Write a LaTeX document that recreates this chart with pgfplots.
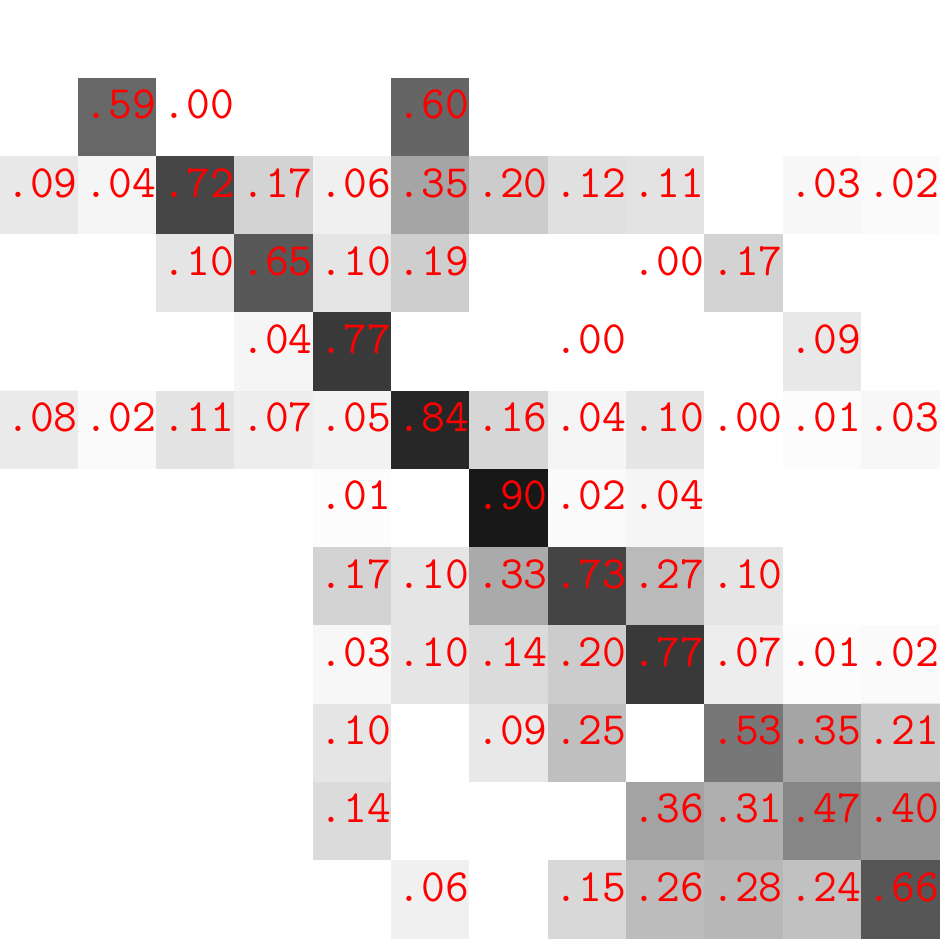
\documentclass[border=0pt]{standalone}
\usepackage{pgfplots}
\pgfplotsset{compat=1.18}

% confusion matrix values, row by row (x varies fastest)
\pgfplotstableread{
x y c
0 0 0
1 0 0
2 0 0
3 0 0
4 0 0
5 0 0
6 0 0
7 0 0
8 0 0
9 0 0
10 0 0
11 0 0
0 1 0
1 1 .59
2 1 .00
3 1 0
4 1 0
5 1 .60
6 1 0
7 1 0
8 1 0
9 1 0
10 1 0
11 1 0
0 2 .09
1 2 .04
2 2 .72
3 2 .17
4 2 .06
5 2 .35
6 2 .20
7 2 .12
8 2 .11
9 2 0
10 2 .03
11 2 .02
0 3 0
1 3 0
2 3 .10
3 3 .65
4 3 .10
5 3 .19
6 3 0
7 3 0
8 3 .00
9 3 .17
10 3 0
11 3 0
0 4 0
1 4 0
2 4 0
3 4 .04
4 4 .77
5 4 0
6 4 0
7 4 .00
8 4 0
9 4 0
10 4 .09
11 4 0
0 5 .08
1 5 .02
2 5 .11
3 5 .07
4 5 .05
5 5 .84
6 5 .16
7 5 .04
8 5 .10
9 5 .00
10 5 .01
11 5 .03
0 6 0
1 6 0
2 6 0
3 6 0
4 6 .01
5 6 0
6 6 .90
7 6 .02
8 6 .04
9 6 0
10 6 0
11 6 0
0 7 0
1 7 0
2 7 0
3 7 0
4 7 .17
5 7 .10
6 7 .33
7 7 .73
8 7 .27
9 7 .10
10 7 0
11 7 0
0 8 0
1 8 0
2 8 0
3 8 0
4 8 .03
5 8 .10
6 8 .14
7 8 .20
8 8 .77
9 8 .07
10 8 .01
11 8 .02
0 9 0
1 9 0
2 9 0
3 9 0
4 9 .10
5 9 0
6 9 .09
7 9 .25
8 9 0
9 9 .53
10 9 .35
11 9 .21
0 10 0
1 10 0
2 10 0
3 10 0
4 10 .14
5 10 0
6 10 0
7 10 0
8 10 .36
9 10 .31
10 10 .47
11 10 .40
0 11 0
1 11 0
2 11 0
3 11 0
4 11 0
5 11 .06
6 11 0
7 11 .15
8 11 .26
9 11 .28
10 11 .24
11 11 .66
}\cells

% printed labels (only the cells that carry a number)
\pgfplotstableread{
x y label
1 1 .59
2 1 .00
5 1 .60
0 2 .09
1 2 .04
2 2 .72
3 2 .17
4 2 .06
5 2 .35
6 2 .20
7 2 .12
8 2 .11
10 2 .03
11 2 .02
2 3 .10
3 3 .65
4 3 .10
5 3 .19
8 3 .00
9 3 .17
3 4 .04
4 4 .77
7 4 .00
10 4 .09
0 5 .08
1 5 .02
2 5 .11
3 5 .07
4 5 .05
5 5 .84
6 5 .16
7 5 .04
8 5 .10
9 5 .00
10 5 .01
11 5 .03
4 6 .01
6 6 .90
7 6 .02
8 6 .04
4 7 .17
5 7 .10
6 7 .33
7 7 .73
8 7 .27
9 7 .10
4 8 .03
5 8 .10
6 8 .14
7 8 .20
8 8 .77
9 8 .07
10 8 .01
11 8 .02
4 9 .10
6 9 .09
7 9 .25
9 9 .53
10 9 .35
11 9 .21
4 10 .14
8 10 .36
9 10 .31
10 10 .47
11 10 .40
5 11 .06
7 11 .15
8 11 .26
9 11 .28
10 11 .24
11 11 .66
}\labels

\begin{document}
\begin{tikzpicture}
\begin{axis}[
    width=12cm,
    height=11.987cm,
    scale only axis,
    hide axis,
    xmin=-0.5, xmax=11.5,
    ymin=-0.5, ymax=11.5,
    y dir=reverse,
    colormap={bw}{gray(0cm)=(1); gray(1cm)=(0)},
    point meta min=0,
    point meta max=1,
]
\addplot[matrix plot*, mesh/cols=12, point meta=explicit]
    table[x=x, y=y, meta=c] {\cells};
\addplot[draw=none, mark=none, nodes near coords,
    point meta=explicit symbolic,
    every node near coord/.style={anchor=base, inner sep=0pt,
        text=red, font=\ttfamily\fontsize{16.8}{16.8}\selectfont,
        xshift=1pt, yshift=-0.5pt}]
    table[x=x, y=y, meta=label] {\labels};
\end{axis}
\end{tikzpicture}
\end{document}
